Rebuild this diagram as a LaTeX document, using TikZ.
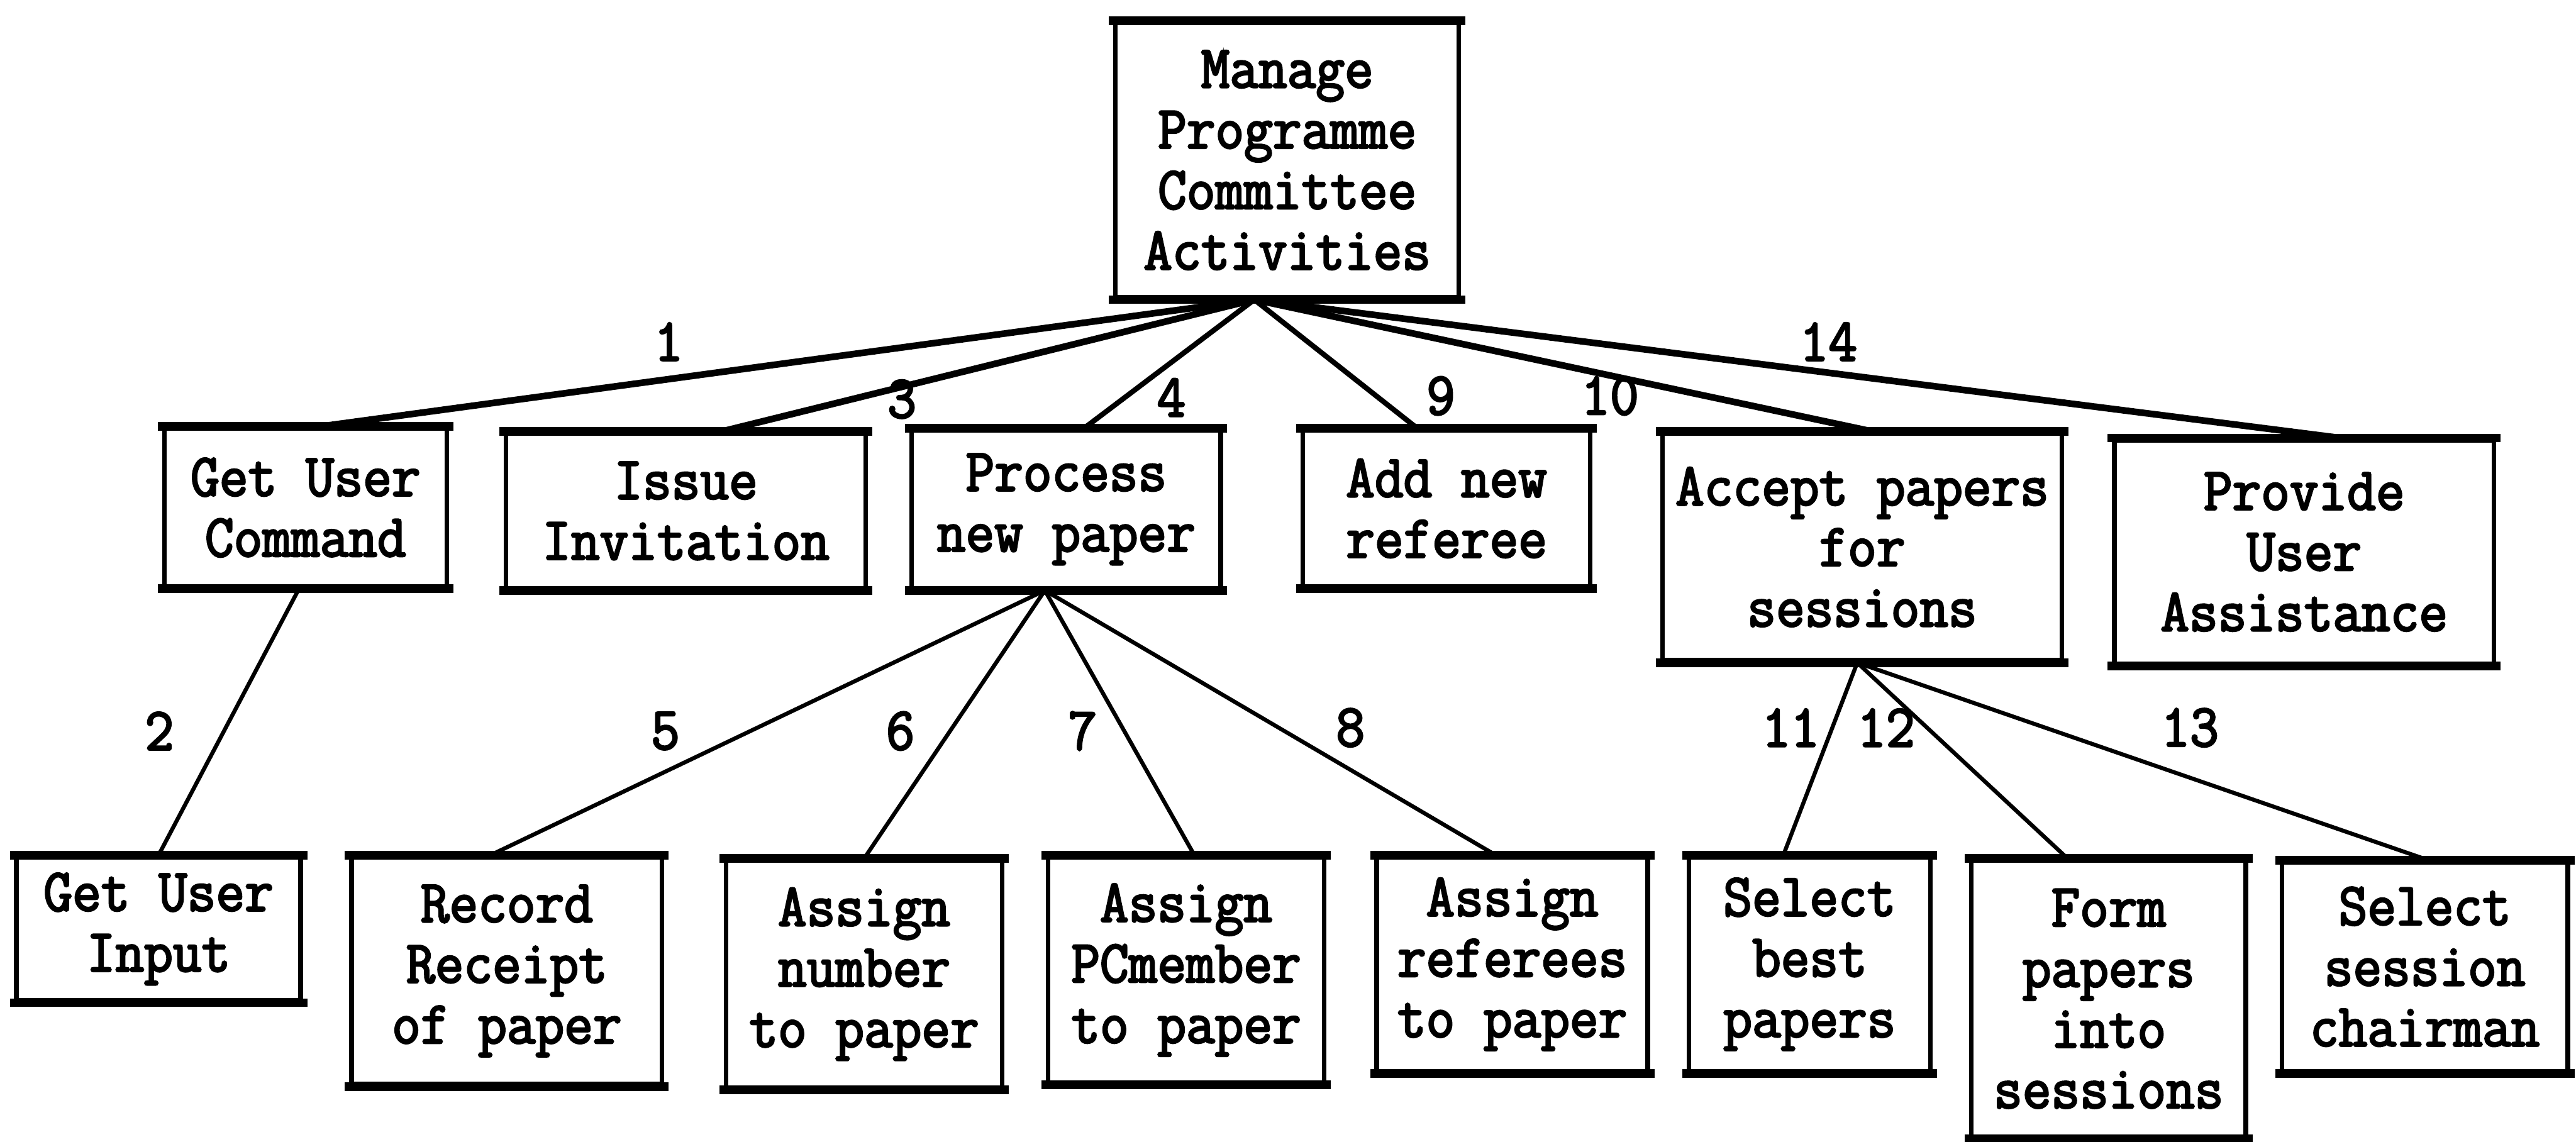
\documentclass[tikz,border=0pt]{standalone}
\usepackage{fontspec}
\newfontfamily\typew{Latin Modern Mono}[FakeStretch=0.92,FakeBold=3]
\usetikzlibrary{calc}
\begin{document}
\begin{tikzpicture}[x=0.02cm,y=-0.02cm,
  every node/.style={font=\typew\fontsize{21}{21}\selectfont},
  pbox/.style 2 args={draw, line width=1.6pt, inner sep=0pt, align=center,
    minimum width=#1*0.02cm, minimum height=#2*0.02cm,
    append after command={
      (\tikzlastnode.north west) edge[line width=3pt, line cap=rect] (\tikzlastnode.north east)
      (\tikzlastnode.south west) edge[line width=3pt, line cap=rect] (\tikzlastnode.south east)}},
  link/.style={line width=2.3pt, line cap=round},
  thinlink/.style={line width=1.8pt, line cap=round},
  sublink/.style={line width=1.4pt, line cap=round},
  num/.style={inner sep=0pt}]

\useasboundingbox (0,0) rectangle (1568,695);

% root
\node[pbox={209}{167}] (top) at (783.5,97.5) {Manage\\Programme\\Committee\\Activities};

% second level
\node[pbox={172}{96}]  (gucmd)   at (186,309)    {Get User\\Command};
\node[pbox={219}{94}]  (issue)   at (417.5,311)  {Issue\\Invitation};
\node[pbox={188}{96}]  (process) at (649,310)    {Process\\new paper};
\node[pbox={175}{95}]  (addref)  at (880.5,309.5){Add new\\referee};
\node[pbox={243}{138}] (accept)  at (1133.5,333) {Accept papers\\for\\sessions};
\node[pbox={231}{136}] (provide) at (1402.5,336) {Provide\\User\\Assistance};

% third level
\node[pbox={173}{87}]  (guinput)  at (96.5,565.5) {Get User\\Input};
\node[pbox={189}{138}] (record)   at (308.5,591)  {Record\\Receipt\\of paper};
\node[pbox={168}{138}] (number)   at (526,593)    {Assign\\number\\to paper};
\node[pbox={168}{137}] (pcmember) at (722,590.5)  {Assign\\PCmember\\to paper};
\node[pbox={165}{130}] (referees) at (920.5,587)  {Assign\\referees\\to paper};
\node[pbox={147}{130}] (best)     at (1101.5,587) {Select\\best\\papers};
\node[pbox={167}{168}] (form)     at (1283.5,608) {Form\\papers\\into\\sessions};
\node[pbox={174}{127}] (chair)    at (1476,588.5) {Select\\session\\chairman};

% connectors from the root
\coordinate (hub) at ($(top.south)+(-20,0)$);
\draw[link]     (hub) -- ($(gucmd.north)+(9,0)$);
\draw[link]     (hub) -- ($(issue.north)+(22,0)$);
\draw[thinlink] (hub) -- ($(process.north)+(11,0)$);
\draw[thinlink] (hub) -- ($(addref.north)+(-18,0)$);
\draw[link]     (hub) -- ($(accept.north)+(6,0)$);
\draw[link]     (hub) -- ($(provide.north)+(22,0)$);

% connectors to the third level
\draw[sublink] ($(gucmd.south)+(-4,0)$) -- (guinput.north);
\coordinate (pfoot) at ($(process.south)+(-13,0)$);
\draw[sublink] (pfoot) -- ($(record.north)+(-10,0)$);
\draw[sublink] (pfoot) -- (number.north);
\draw[sublink] (pfoot) -- ($(pcmember.north)+(5,0)$);
\draw[sublink] (pfoot) -- ($(referees.north)+(-10,0)$);
\coordinate (afoot) at ($(accept.south)+(-3,0)$);
\draw[sublink] (afoot) -- ($(best.north)+(-16,0)$);
\draw[sublink] (afoot) -- ($(form.north)+(-25,0)$);
\draw[sublink] (afoot) -- ($(chair.north)+(2,0)$);

% connector numbers
\node[num] (n1)  at (407,208)  {1};
\node[num] (n3)  at (549,243)  {3};
\node[num] (n4)  at (713,242)  {4};
\node[num] (n9)  at (877,241)  {9};
\node[num] (n10) at (980,241)  {10};
\node[num] (n14) at (1113,208) {14};
\node[num] (n2)  at (97,445)   {2};
\node[num] (n5)  at (405,445)  {5};
\node[num] (n6)  at (548,445)  {6};
\node[num] (n7)  at (659,445)  {7};
\node[num] (n8)  at (822,443)  {8};
\node[num] (n11) at (1090,443) {11};
\node[num] (n12) at (1148,443) {12};
\node[num] (n13) at (1333,443) {13};
\end{tikzpicture}
\end{document}
